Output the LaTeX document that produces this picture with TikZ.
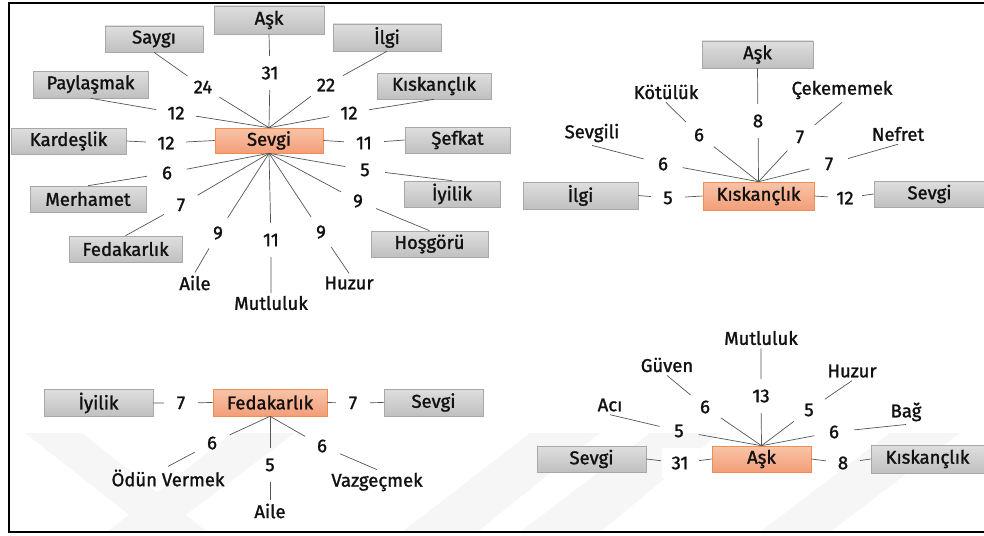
\documentclass[tikz,border=0pt]{standalone}
\usepackage{fontspec}
\setmainfont{Fira Sans}[UprightFeatures={FakeBold=1.4}]
\usetikzlibrary{shapes.geometric}

\definecolor{boxtop}{HTML}{DEDEDE}
\definecolor{boxbot}{HTML}{C0C0C0}
\definecolor{boxline}{HTML}{A8A8A8}
\definecolor{hubtop}{HTML}{F8C4A8}
\definecolor{hubbot}{HTML}{F39E78}
\definecolor{hubline}{HTML}{EE8D56}
\definecolor{spokecol}{HTML}{555555}
\definecolor{stripegray}{HTML}{F6F6F6}
\definecolor{inkcol}{HTML}{111111}

\tikzset{
  gbox/.style={draw=boxline, line width=0.6pt, top color=boxtop, bottom color=boxbot,
    minimum height=26pt, inner sep=0pt},
  obox/.style={draw=hubline, line width=0.6pt, top color=hubtop, bottom color=hubbot,
    minimum height=26pt, inner sep=0pt},
  num/.style={ellipse, minimum width=40pt, minimum height=34pt, inner sep=0pt},
  word/.style={inner sep=3pt},
  link/.style={draw=spokecol, line width=0.7pt},
  frame/.style={draw=black, line width=2pt},
  stripe/.style={fill=stripegray},
}

\begin{document}
\begin{tikzpicture}[x=1pt, y=-1pt, font=\fontsize{18.5}{22}\selectfont, text=inkcol]
\path[use as bounding box] (0,0) rectangle (984,535);
\begin{scope}
\clip (0,0) rectangle (984,535);

% faint background stripes
\fill[stripe] (25,433) -- (82,433) -- (207,532) -- (151,532) -- cycle;
\fill[stripe] (107,532) -- (163,532) -- (295,433) -- (232,433) -- cycle;
\fill[stripe] (402,532) -- (477,532) -- (600,433) -- (530,433) -- cycle;
\fill[stripe] (520,532) -- (600,532) -- (720,433) -- (650,433) -- cycle;
\fill[stripe] (760,532) -- (830,532) -- (960,433) -- (890,433) -- cycle;
\fill[white] (662,448) rectangle (700,478);

% outer frame
\draw[frame] (9,3) rectangle (1010,532);

% ---------------- Sevgi ----------------
\node[obox, minimum width=108pt, minimum height=25pt] (sv) at (269,140.5) {Sevgi};
\node[gbox, minimum width=110pt, minimum height=28pt] (svAsk) at (269,20) {Aşk};
\node[gbox, minimum width=98pt] (svSaygi) at (154,39) {Saygı};
\node[gbox, minimum width=108pt, minimum height=27pt] (svIlgi) at (387,37.5) {İlgi};
\node[gbox, minimum width=115pt, minimum height=27pt] (svPay) at (90.5,84.5) {Paylaşmak};
\node[gbox, minimum width=114pt] (svKis) at (434,86) {Kıskançlık};
\node[gbox, minimum width=115pt] (svKar) at (68.5,141) {Kardeşlik};
\node[gbox, minimum width=105pt] (svSef) at (457.5,140) {Şefkat};
\node[gbox, minimum width=116pt] (svMer) at (88,199) {Merhamet};
\node[gbox, minimum width=96pt] (svIyi) at (452,194) {İyilik};
\node[gbox, minimum width=113pt] (svFed) at (125.5,249) {Fedakarlık};
\node[gbox, minimum width=117pt] (svHos) at (429.5,244) {Hoşgörü};
\node[word] (svAile) at (195,283) {Aile};
\node[word] (svMut) at (271,303) {Mutluluk};
\node[word] (svHuz) at (349,283) {Huzur};

\node[num] (svnAsk) at (270,73) {31};
\node[num] (svnSaygi) at (203,87) {24};
\node[num] (svnIlgi) at (326,85) {22};
\node[num] (svnPay) at (176,113) {12};
\node[num] (svnKis) at (349,113) {12};
\node[num] (svnKar) at (166,143) {12};
\node[num] (svnSef) at (364,143) {11};
\node[num] (svnMer) at (167,173) {6};
\node[num] (svnIyi) at (365,170) {5};
\node[num] (svnFed) at (181,205) {7};
\node[num] (svnHos) at (358,201) {9};
\node[num] (svnAile) at (218,233) {9};
\node[num] (svnMut) at (271,240) {11};
\node[num] (svnHuz) at (321,232) {9};

\draw[link] (sv.north) -- (svnAsk) -- (svAsk.south);
\draw[link] (sv.north) -- (svnSaygi) -- (svSaygi.south);
\draw[link] (sv.north) -- (svnIlgi) -- (svIlgi.south);
\draw[link] (sv.north) -- (svnPay) -- (svPay.south);
\draw[link] (sv.north) -- (svnKis) -- (svKis.south);
\draw[link] (sv.west) -- (svnKar) -- (svKar.east);
\draw[link] (sv.east) -- (svnSef) -- (svSef.west);
\draw[link] (sv.south) -- (svnMer) -- (svMer.north);
\draw[link] (sv.south) -- (svnIyi) -- (svIyi.north);
\draw[link] (sv.south) -- (svnFed) -- (svFed.north);
\draw[link] (sv.south) -- (svnHos) -- (svHos.north);
\draw[link] (sv.south) -- (svnAile) -- (svAile.north);
\draw[link] (sv.south) -- (svnMut) -- (svMut.north);
\draw[link] (sv.south) -- (svnHuz) -- (svHuz.north);

% ---------------- Kıskançlık ----------------
\node[obox, minimum width=111pt, minimum height=28pt] (ks) at (758.5,196) {Kıskançlık};
\node[gbox, minimum width=111pt, minimum height=27pt] (ksAsk) at (757.5,54.5) {Aşk};
\node[gbox, minimum width=115pt, minimum height=27pt] (ksIlgi) at (580.5,195.5) {İlgi};
\node[gbox, minimum width=111pt] (ksSev) at (929.5,194) {Sevgi};
\node[word] (ksKot) at (666,92) {Kötülük};
\node[word] (ksCek) at (842,90) {Çekememek};
\node[word] (ksSvl) at (592,133) {Sevgili};
\node[word] (ksNef) at (898,134) {Nefret};

\node[num] (ksnAsk) at (758,121) {8};
\node[num] (ksnKot) at (699,135) {6};
\node[num] (ksnCek) at (800,137) {7};
\node[num] (ksnSvl) at (663,164) {6};
\node[num] (ksnNef) at (829,164) {7};
\node[num, minimum width=34pt] (ksnIlgi) at (668,198) {5};
\node[num, minimum width=34pt] (ksnSev) at (845,198) {12};

\draw[link] (ks.north) -- (ksnAsk) -- (ksAsk.south);
\draw[link] (ks.north) -- (ksnKot) -- (ksKot.south);
\draw[link] (ks.north) -- (ksnCek) -- (ksCek.south);
\draw[link] (ks.north) -- (ksnSvl) -- (ksSvl.south);
\draw[link] (ks.north) -- (ksnNef) -- (ksNef.south);
\draw[link] (ks.west) -- (ksnIlgi) -- (ksIlgi.east);
\draw[link] (ks.east) -- (ksnSev) -- (ksSev.west);

% ---------------- Fedakarlık ----------------
\node[obox, minimum width=114pt, minimum height=27pt] (fd) at (270,402.5) {Fedakarlık};
\node[gbox, minimum width=109pt, minimum height=27pt] (fdIyi) at (98.5,403) {İyilik};
\node[gbox, minimum width=99pt, minimum height=27pt] (fdSev) at (433.5,402.5) {Sevgi};
\node[word] (fdOdun) at (168,478) {Ödün Vermek};
\node[word] (fdAile) at (270,511) {Aile};
\node[word] (fdVaz) at (377,482) {Vazgeçmek};

\node[num, minimum width=34pt] (fdnIyi) at (181,403) {7};
\node[num, minimum width=34pt] (fdnSev) at (353,403) {7};
\node[num] (fdnOdun) at (212,443) {6};
\node[num] (fdnAile) at (270,465) {5};
\node[num] (fdnVaz) at (322,446) {6};

\draw[link] (fd.west) -- (fdnIyi) -- (fdIyi.east);
\draw[link] (fd.east) -- (fdnSev) -- (fdSev.west);
\draw[link] (fd.south) -- (fdnOdun) -- (fdOdun.north);
\draw[link] (fd.south) -- (fdnAile) -- (fdAile.north);
\draw[link] (fd.south) -- (fdnVaz) -- (fdVaz.north);

% ---------------- Aşk ----------------
\node[obox, minimum width=99pt] (ak) at (761.5,459) {Aşk};
\node[gbox, minimum width=109pt] (akSev) at (591.5,459) {Sevgi};
\node[gbox, minimum width=113pt, minimum height=28pt] (akKis) at (927.5,459) {Kıskançlık};
\node[word] (akAci) at (610,405) {Acı};
\node[word] (akGuv) at (667,365) {Güven};
\node[word] (akMut) at (761,338) {Mutluluk};
\node[word] (akHuz) at (852,371) {Huzur};
\node[word] (akBag) at (906,412) {Bağ};

\node[num, minimum width=38pt] (aknSev) at (680,463) {31};
\node[num, minimum width=34pt] (aknKis) at (843,463) {8};
\node[num] (aknAci) at (679,431) {5};
\node[num] (aknGuv) at (705,407) {6};
\node[num] (aknMut) at (761,396) {13};
\node[num] (aknHuz) at (809,410) {5};
\node[num] (aknBag) at (834,432) {6};

\draw[link] (ak.west) -- (aknSev) -- (akSev.east);
\draw[link] (ak.east) -- (aknKis) -- (akKis.west);
\draw[link] (ak.north) -- (aknAci) -- (akAci.south);
\draw[link] (ak.north) -- (aknGuv) -- (akGuv.south);
\draw[link] (ak.north) -- (aknMut) -- (akMut.south);
\draw[link] (ak.north) -- (aknHuz) -- (akHuz.south);
\draw[link] (ak.north) -- (aknBag) -- (akBag.south);
\end{scope}
\end{tikzpicture}
\end{document}
